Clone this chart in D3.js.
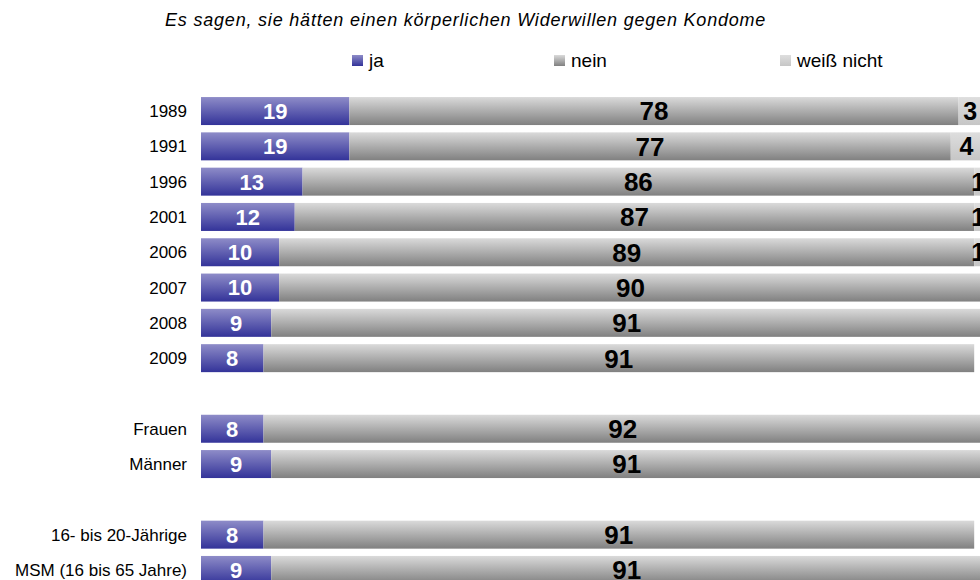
<!DOCTYPE html>
<html>
<head>
<meta charset="utf-8">
<script src="https://cdn.jsdelivr.net/npm/d3@7"></script>
<style>
  body { margin: 0; background: #fff; }
  svg { display: block; font-family: Arial, "Liberation Sans", sans-serif; }
</style>
</head>
<body>
<div id="chart"></div>
<script>
// DATA //
var groups = [
  ["1989", "1991", "1996", "2001", "2006", "2007", "2008", "2009"],
  ["Frauen", "Männer"],
  ["16- bis 20-Jährige", "MSM (16 bis 65 Jahre)"]
]
var ja = [19, 19, 13, 12, 10, 10, 9, 8, 8, 9, 8, 9]
var nein = [78, 77, 86, 87, 89, 90, 91, 91, 92, 91, 91, 91]
var weissNicht = [3, 4, 1, 1, 1, 0, 0, 0, 0, 0, 0, 0]
var seriesNames = ["ja", "nein", "weiß nicht"]
var title = "Es sagen, sie hätten einen körperlichen Widerwillen gegen Kondome"

var width = 980, height = 580
var margin = {top: 93.4, left: 201}

var svg = d3.select("#chart").append("svg")
  .attr("width", width)
  .attr("height", height)

// gradients
var defs = svg.append("defs")
var grads = [
  {id: "g-ja", top: "#8e8cc8", bottom: "#333399"},
  {id: "g-nein", top: "#dadada", bottom: "#808080"},
  {id: "g-wn", top: "#dedede", bottom: "#c6c6c6"}
]
grads.forEach(function (g) {
  var lg = defs.append("linearGradient")
    .attr("id", g.id)
    .attr("x1", 0).attr("y1", 0).attr("x2", 0).attr("y2", 1)
  lg.append("stop").attr("offset", "0%").attr("stop-color", g.top)
  lg.append("stop").attr("offset", "100%").attr("stop-color", g.bottom)
})

// rows with a blank slot between groups
var categories = d3.merge(groups)
var domain = []
groups.forEach(function (g, i) {
  if (i > 0) domain.push("__gap" + i)
  g.forEach(function (c) { domain.push(c) })
})

var rows = categories.map(function (c, i) {
  return {cat: c, values: [ja[i], nein[i], weissNicht[i]]}
})

var x = d3.scaleLinear().domain([0, 100]).range([margin.left, 982])
var y = d3.scaleBand().domain(domain)
  .range([margin.top, margin.top + 35.3 * domain.length])
  .paddingInner(0.207).paddingOuter(0.1035)

var stack = d3.stack().keys([0, 1, 2]).value(function (d, k) { return d.values[k] })
var layers = stack(rows)
var fills = ["url(#g-ja)", "url(#g-nein)", "url(#g-wn)"]
var labelColors = ["#fff", "#000", "#000"]
var labelSizes = ["22px", "26px", "25px"]

var layer = svg.selectAll(".layer")
  .data(layers)
  .enter().append("g")
    .attr("class", "layer")

layer.selectAll("rect")
  .data(function (d) { return d })
  .enter().append("rect")
    .attr("x", d => x(d[0]))
    .attr("y", d => y(d.data.cat))
    .attr("width", d => x(d[1]) - x(d[0]))
    .attr("height", y.bandwidth())
    .attr("fill", function () { return fills[d3.select(this.parentNode).datum().key] })

layer.each(function (L) {
  d3.select(this).selectAll("text")
    .data(L.filter(d => d[1] - d[0] > 0))
    .enter().append("text")
      .attr("x", d => (x(d[0]) + x(d[1])) / 2)
      .attr("y", d => y(d.data.cat) + y.bandwidth() / 2)
      .attr("dy", "0.36em")
      .attr("text-anchor", "middle")
      .style("font-size", labelSizes[L.key])
      .style("font-weight", "bold")
      .style("fill", labelColors[L.key])
      .text(d => d[1] - d[0])
})

// category labels
svg.selectAll(".cat")
  .data(categories)
  .enter().append("text")
    .attr("class", "cat")
    .attr("x", 187)
    .attr("y", d => y(d) + y.bandwidth() / 2)
    .attr("dy", "0.36em")
    .attr("text-anchor", "end")
    .style("font-size", "17px")
    .style("fill", "#000")
    .text(d => d)

// title
svg.append("text")
  .attr("x", 165)
  .attr("y", 26)
  .style("font-size", "18px")
  .style("letter-spacing", "0.8px")
  .style("font-style", "italic")
  .style("fill", "#000")
  .text(title)

// legend
var legendX = [352, 554, 780]
var legend = svg.selectAll(".legend")
  .data(seriesNames)
  .enter().append("g")
    .attr("class", "legend")
    .attr("transform", (d, i) => "translate(" + legendX[i] + "," + 55 + ")")

legend.append("rect")
  .attr("width", 11)
  .attr("height", 11)
  .attr("fill", (d, i) => fills[i])

legend.append("text")
  .attr("x", 17)
  .attr("y", 12)
  .style("font-size", "19px")
  .style("fill", "#000")
  .text(d => d)
</script>
</body>
</html>
